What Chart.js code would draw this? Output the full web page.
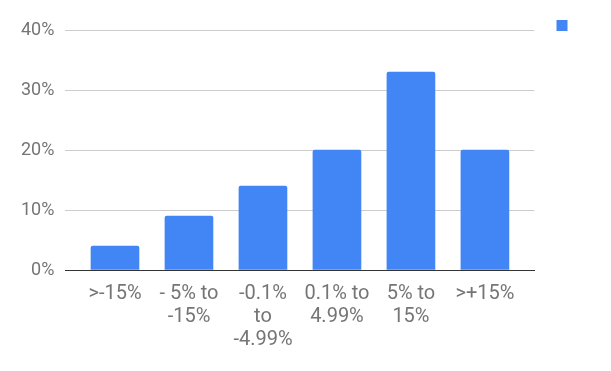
<!DOCTYPE html>
<html><head><meta charset="utf-8">
<script src="https://cdn.jsdelivr.net/npm/chart.js@4"></script>
<style>html,body{margin:0;padding:0;background:#fff}#wrap{width:611px;height:371px}</style>
</head><body><div id="wrap"><canvas id="c"></canvas></div>
<script>
const categories = [['>-15%'], ['- 5% to', '-15%'], ['-0.1%', 'to', '-4.99%'], ['0.1% to', '4.99%'], ['5% to', '15%'], ['>+15%']];
const values = [4, 9, 14, 20, 33, 20];
const yTicks = [0, 10, 20, 30, 40];

const points = values.map((v, i) => ({x: i, y: v}));
new Chart(document.getElementById('c'), {
  type: 'bar',
  data: { datasets: [{ label: '', data: points, backgroundColor: '#4285f4', borderRadius: 2, barThickness: 48 }] },
  options: {
    responsive: true, maintainAspectRatio: false, animation: false,
    layout: { padding: { top: -2, right: 28, left: 10, bottom: 8 } },
    plugins: {
      legend: { position: 'right', align: 'start', labels: { boxWidth: 11, boxHeight: 11, padding: 22, font: {size: 11} } },
      tooltip: { enabled: false }
    },
    scales: {
      x: {
        type: 'linear', min: -0.67, max: 5.67, offset: false,
        grid: { display: false, drawTicks: false },
        border: { color: '#333333', width: 1 },
        ticks: { stepSize: 1, includeBounds: false, autoSkip: false, maxRotation: 0, padding: 12,
          color: '#757575', font: { family: 'Roboto', size: 20, lineHeight: 1.15 },
          callback: (v) => Number.isInteger(v) && categories[v] ? categories[v] : '' }
      },
      y: {
        min: 0, max: 40,
        afterBuildTicks: (s) => { s.ticks = yTicks.map(v => ({value: v})); },
        afterFit: (s) => { s.paddingTop = 30; },
        grid: { color: '#cccccc', drawTicks: false },
        border: { display: false },
        ticks: { padding: 11, color: '#757575', font: { family: 'Roboto', size: 18 }, callback: (v) => v + '%' }
      }
    }
  }
});
</script></body></html>
